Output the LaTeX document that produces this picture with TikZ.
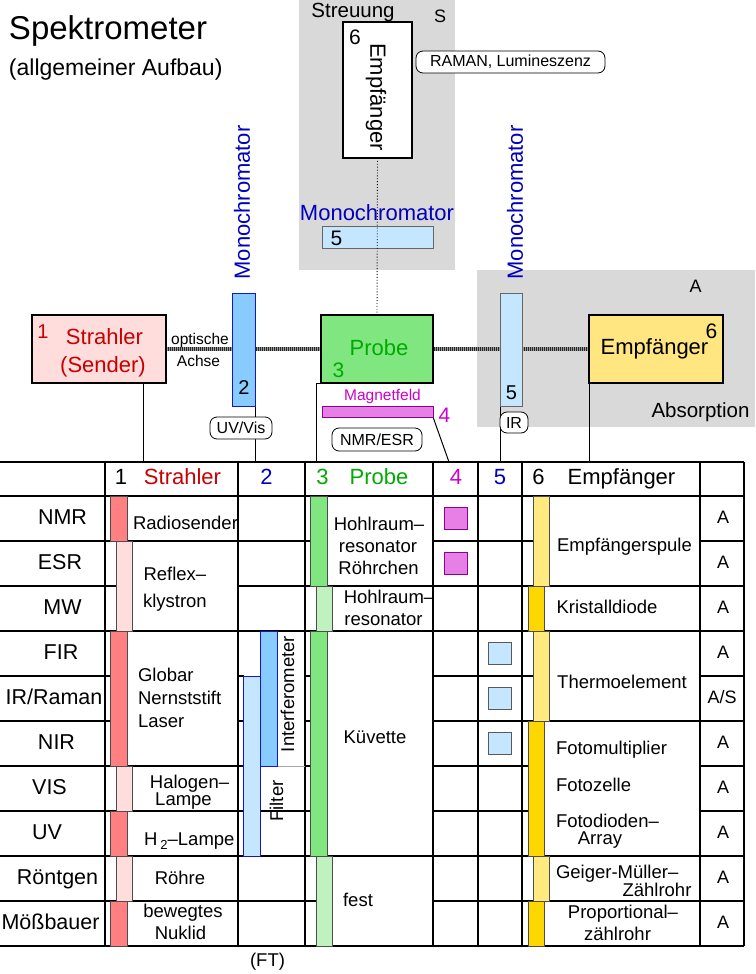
\documentclass[tikz,border=0pt]{standalone}
\usepackage{fontspec}
\setmainfont{Liberation Sans}
\newcommand\fsz[1]{\fontsize{#1}{#1}\selectfont}
\definecolor{cRed}{RGB}{200,0,0}
\definecolor{cRedBar}{RGB}{255,128,128}
\definecolor{cPink}{RGB}{255,221,221}
\definecolor{cBlueTxt}{RGB}{0,0,190}
\definecolor{cBlue}{RGB}{136,204,255}
\definecolor{cLBlue}{RGB}{196,230,255}
\definecolor{cBlueLine}{RGB}{20,20,210}
\definecolor{cGreenTxt}{RGB}{0,170,0}
\definecolor{cGreen}{RGB}{128,230,128}
\definecolor{cLGreen}{RGB}{192,242,192}
\definecolor{cPurple}{RGB}{204,0,204}
\definecolor{cViolet}{RGB}{230,128,230}
\definecolor{cYellow}{RGB}{255,230,128}
\definecolor{cGold}{RGB}{255,215,0}
\definecolor{cLYellow}{RGB}{255,234,128}
\definecolor{cGray}{RGB}{217,217,217}
\pgfdeclarelayer{bg}
\pgfsetlayers{bg,main}
\begin{document}
\begin{tikzpicture}[x=1pt,y=-1pt,
  every node/.style={inner sep=0pt, outer sep=0pt},
  tbox/.style={draw, line width=2.4pt, anchor=north west},
  mbox/.style={draw, line width=0.8pt, anchor=north west},
  pill/.style={draw, fill=white, rounded corners=7pt, line width=0.8pt, minimum height=22pt, font=\fsz{16}},
  big/.style={font=\fsz{22}},
  cell/.style={font=\fsz{18.5}},
  lab/.style={font=\fsz{21.5}, anchor=base},
  acell/.style={font=\fsz{18}, anchor=base},
  tl/.style={line width=1.3pt},
  bar/.style={draw=black!70, line width=0.8pt},
  axisbase/.style={line width=4pt, black!40},
  axis/.style={line width=4pt, black!85, dash pattern=on 1pt off 1pt},
  conn/.style={line width=1pt},
]
\useasboundingbox (0,0) rectangle (755,974);

% ---------------- upper diagram ----------------
\node[anchor=base west, font=\fsz{33}] (title) at (9,40) {Spektrometer};
\node[anchor=base west, font=\fsz{23}] (subtitle) at (9,75) {(allgemeiner Aufbau)};

% scattering branch
\node[anchor=base, font=\fsz{20.5}] (streuung) at (353,18) {Streuung};
\node[anchor=base, font=\fsz{18}] (sLabel) at (440,23) {S};
\node[tbox, fill=white, minimum width=69pt, minimum height=136pt] (empfS) at (343,22) {};
\node[anchor=base, font=\fsz{21}] (sixS) at (355,45) {6};
\node[big, rotate=-90] (empfSTxt) at (376,97) {Empfänger};
\node[pill, minimum width=189pt] (raman) at (510.5,62) {RAMAN, Lumineszenz};
\node[big, text=cBlueTxt] (monoTop) at (377,212.5) {Monochromator};
\node[mbox, fill=cLBlue, draw=black!60, minimum width=111pt, minimum height=22pt] (mono5s) at (322,226) {};
\node[anchor=base, font=\fsz{21}] (fiveS) at (336.5,245) {5};

% source and monochromator 2
\node[tbox, fill=cPink, minimum width=134pt, minimum height=68pt] (strahler) at (32,315) {};
\node[anchor=base, font=\fsz{20}, text=cRed] (one) at (43,338) {1};
\node[anchor=base, big, text=cRed] (strTxt) at (104.5,344) {Strahler};
\node[anchor=base, big, text=cRed] (sendTxt) at (103,372) {(Sender)};
\node[anchor=base, font=\fsz{15.5}] (opt1) at (200,344) {optische};
\node[anchor=base, font=\fsz{15.5}] (opt2) at (198.5,366) {Achse};
\node[big, rotate=90, text=cBlueTxt] (monoL) at (242,202.5) {Monochromator};
\node[mbox, fill=cBlue, draw=cBlueLine, minimum width=23pt, minimum height=113pt] (mono2) at (232,293) {};
\node[anchor=base, font=\fsz{20}] (two) at (244,394) {2};

% sample
\node[tbox, fill=cGreen, minimum width=112pt, minimum height=68pt] (probe) at (321,315) {};
\node[anchor=base, big, text=cGreenTxt] (probeTxt) at (379,355) {Probe};
\node[anchor=base, font=\fsz{21}, text=cGreenTxt] (three) at (338.5,377) {3};
\node[anchor=base, font=\fsz{15.5}, text=cPurple] (magTxt) at (382.5,400) {Magnetfeld};
\node[mbox, fill=cViolet, draw=cPurple!70!black, minimum width=111pt, minimum height=11pt] (magnet) at (322,406) {};
\node[anchor=base, font=\fsz{21}, text=cPurple] (four) at (444.5,422) {4};

% absorption branch
\node[big, rotate=90, text=cBlueTxt] (monoR) at (515,202.5) {Monochromator};
\node[mbox, fill=cLBlue, draw=black!60, minimum width=22pt, minimum height=113pt] (mono5) at (500,293) {};
\node[anchor=base, font=\fsz{20}] (fiveR) at (511.5,399) {5};
\node[tbox, fill=cYellow, minimum width=134pt, minimum height=68pt] (empf) at (589,315) {};
\node[anchor=base, big] (empfTxt) at (654.5,354) {Empfänger};
\node[anchor=base, font=\fsz{21}] (sixA) at (711.5,338) {6};
\node[anchor=base, font=\fsz{18}] (aLabel) at (695.5,292) {A};
\node[anchor=base, font=\fsz{20.5}] (absTxt) at (700.5,417) {Absorption};

% table anchors
\coordinate (t1) at (143,462);
\coordinate (t2) at (255,462);
\coordinate (t3) at (316,462);
\coordinate (t4) at (449,462);
\coordinate (t5) at (500,462);
\coordinate (t6) at (589,462);

\begin{pgfonlayer}{bg}
  \fill[cGray] (299,0) rectangle (455,270);
  \fill[cGray] (477,270) rectangle (755,427);
  \draw[axisbase] (strahler.east) -- (empf.west);
  \draw[axis] (strahler.east) -- (empf.west);
  \draw[conn] (strahler.south -| t1) -- (t1);
  \draw[conn] (mono2.south east) -- (t2);
  \draw[conn] (probe.south west) -| (t3);
  \draw[conn] (magnet.south east) -- (t4);
  \draw[conn] (mono5.south west) -- (t5);
  \draw[conn] (empf.south west) -- (t6);
\end{pgfonlayer}

\node[pill, minimum width=62pt] (uvvis) at (241,428) {UV/Vis};
\node[pill, minimum width=90pt, minimum height=23pt] (nmresr) at (377,439.5) {NMR/ESR};
\node[pill, minimum width=28pt, minimum height=21pt] (ir) at (514,422.5) {IR};

\draw[dotted, line width=0.9pt] (empfS.south) -- (probe.north);

% ---------------- table ----------------
\draw[tl] (0,462) -- (744,462);
\draw[tl] (0,496) -- (744,496);
\draw[tl] (0,946) -- (744,946);
\foreach \x in {105,238,305,433,478,522,700,744} \draw[tl] (\x,462) -- (\x,946);
\foreach \y in {541,586,...,901} {
  \draw[tl] (0,\y) -- (105,\y);
  \draw[tl] (105,\y) -- (117,\y);
  \draw[tl] (305,\y) -- (317,\y);
  \draw[tl] (522,\y) -- (534,\y);
  \draw[tl] (433,\y) -- (522,\y);
  \draw[tl] (700,\y) -- (744,\y);
}
\foreach \y in {541,631,766,811,856,901} \draw[tl] (105,\y) -- (238,\y);
\foreach \y in {541,586,631,811,856,901} \draw[tl] (238,\y) -- (305,\y);
\foreach \y in {676,721,766} \draw[tl] (238,\y) -- (244,\y);
\draw[line width=0.8pt, black!35] (277,766) -- (305,766);
\foreach \y in {586,631,856} \draw[tl] (305,\y) -- (433,\y);
\foreach \y in {586,631,721,856,901} \draw[tl] (522,\y) -- (700,\y);

% bars column 1
\filldraw[bar, fill=cRedBar] (110,496) rectangle (127,541);
\filldraw[bar, fill=cPink] (116,541) rectangle (132,631);
\filldraw[bar, fill=cRedBar] (110,631) rectangle (127,766);
\filldraw[bar, fill=cPink] (116,766) rectangle (132,811);
\filldraw[bar, fill=cRedBar] (110,811) rectangle (127,856);
\filldraw[bar, fill=cPink] (116,856) rectangle (132,901);
\filldraw[bar, fill=cRedBar] (110,901) rectangle (127,946);
% column 2
\filldraw[draw=cBlueLine, line width=0.8pt, fill=cBlue] (260.7,631) rectangle (277.3,766);
\filldraw[draw=cBlueLine, line width=0.8pt, fill=cLBlue] (243.3,676) rectangle (260.7,856);
% column 3
\filldraw[bar, fill=cGreen] (310,496) rectangle (327,586);
\filldraw[bar, fill=cLGreen] (316,586) rectangle (332,631);
\filldraw[bar, fill=cGreen] (310,631) rectangle (327,856);
\filldraw[bar, fill=cLGreen] (316,856) rectangle (332,946);
% column 4
\filldraw[draw=cPurple!70!black, line width=0.8pt, fill=cViolet] (444,507) rectangle (467,529);
\filldraw[draw=cPurple!70!black, line width=0.8pt, fill=cViolet] (444,552) rectangle (467,574);
% column 5
\foreach \y in {642,687,732} \filldraw[draw=black!65, line width=0.8pt, fill=cLBlue] (488,\y) rectangle (511,\y+22);
% column 6
\filldraw[bar, fill=cLYellow] (533,496) rectangle (549,586);
\filldraw[bar, fill=cGold] (528,586) rectangle (544,631);
\filldraw[bar, fill=cLYellow] (533,631) rectangle (549,721);
\filldraw[bar, fill=cGold] (528,721) rectangle (544,856);
\filldraw[bar, fill=cLYellow] (533,856) rectangle (549,901);
\filldraw[bar, fill=cGold] (528,901) rectangle (544,946);

% header
\node[anchor=base, big] (h1) at (121,484.5) {1};
\node[anchor=base, big, text=cRed] (h1t) at (182.5,484.5) {Strahler};
\node[anchor=base, big, text=cBlueTxt] (h2) at (266.5,484.5) {2};
\node[anchor=base, big, text=cGreenTxt] (h3) at (322.5,484.5) {3};
\node[anchor=base, big, text=cGreenTxt] (h3t) at (379,484.5) {Probe};
\node[anchor=base, big, text=cPurple] (h4) at (456,484.5) {4};
\node[anchor=base, big, text=cBlueTxt] (h5) at (500,484.5) {5};
\node[anchor=base, big] (h6) at (538.5,484.5) {6};
\node[anchor=base, big] (h6t) at (621.5,484.5) {Empfänger};

% row labels
\node[lab] (rNMR) at (62.5,524.5) {NMR};
\node[lab] (rESR) at (60,569.5) {ESR};
\node[lab] (rMW) at (62.5,614.5) {MW};
\node[lab] (rFIR) at (61,659.5) {FIR};
\node[lab] (rIR) at (54,704.5) {IR/Raman};
\node[lab] (rNIR) at (56.5,749.5) {NIR};
\node[lab] (rVIS) at (49.5,794.5) {VIS};
\node[lab] (rUV) at (47,839.5) {UV};
\node[lab] (rRoe) at (57.5,884.5) {Röntgen};
\node[lab] (rMoe) at (50.5,929.5) {Mößbauer};

% column 1 texts
\node[cell, anchor=base] (c1a) at (185.5,529) {Radiosender};
\node[cell, anchor=base west] (c1b) at (143.5,580) {Reflex–};
\node[cell, anchor=base west] (c1c) at (143,607) {klystron};
\node[cell, anchor=base west] (c1d) at (138,681) {Globar};
\node[cell, anchor=base west] (c1e) at (138,704) {Nernststift};
\node[cell, anchor=base west] (c1f) at (138,727) {Laser};
\node[cell, anchor=base] (c1g) at (189.5,788) {Halogen–};
\node[cell, anchor=base] (c1h) at (183.5,805) {Lampe};
\node[cell, anchor=base west] (c1i) at (144,845) {H\,\raisebox{-4pt}{\fsz{13}2}–Lampe};
\node[cell, anchor=base] (c1j) at (180,884) {Röhre};
\node[cell, anchor=base] (c1k) at (183,917) {bewegtes};
\node[cell, anchor=base] (c1l) at (180.5,939) {Nuklid};

% column 2 texts
\node[cell, rotate=90] (c2a) at (287.5,694) {Interferometer};
\node[cell, rotate=90] (c2b) at (276.5,801) {Filter};
\node[cell, anchor=base] (ft) at (267.5,966.5) {(FT)};

% column 3 texts
\node[cell, anchor=base] (c3a) at (379,530) {Hohlraum–};
\node[cell, anchor=base] (c3b) at (378,552) {resonator};
\node[cell, anchor=base] (c3c) at (378.5,574) {Röhrchen};
\node[cell, anchor=base] (c3d) at (389,603.5) {Hohlraum–};
\node[cell, anchor=base] (c3e) at (383.5,625) {resonator};
\node[cell, anchor=base] (c3f) at (375,743) {Küvette};
\node[cell, anchor=base] (c3g) at (358,906) {fest};

% column 6 texts
\node[cell, anchor=base] (c6a) at (624.5,551.5) {Empfängerspule};
\node[cell, anchor=base] (c6b) at (607,613) {Kristalldiode};
\node[cell, anchor=base] (c6c) at (622,688) {Thermoelement};
\node[cell, anchor=base west] (c6d) at (556,754) {Fotomultiplier};
\node[cell, anchor=base west] (c6e) at (556,791.5) {Fotozelle};
\node[cell, anchor=base west] (c6f) at (556,827.5) {Fotodioden–};
\node[cell, anchor=base] (c6g) at (600,844.5) {Array};
\node[cell, anchor=base west] (c6h) at (556,878) {Geiger-Müller–};
\node[cell, anchor=base] (c6i) at (657,896) {Zählrohr};
\node[cell, anchor=base] (c6j) at (623,918) {Proportional–};
\node[cell, anchor=base] (c6k) at (617.5,940) {zählrohr};

% column A
\node[acell] (a1) at (723,523.5) {A};
\node[acell] (a2) at (723,568.5) {A};
\node[acell] (a3) at (723,613.5) {A};
\node[acell] (a4) at (723,658.5) {A};
\node[acell] (a5) at (722,703.5) {A/S};
\node[acell] (a6) at (723,748.5) {A};
\node[acell] (a7) at (723,793.5) {A};
\node[acell] (a8) at (723,838.5) {A};
\node[acell] (a9) at (723,883.5) {A};
\node[acell] (a10) at (723,928.5) {A};
\end{tikzpicture}
\end{document}
